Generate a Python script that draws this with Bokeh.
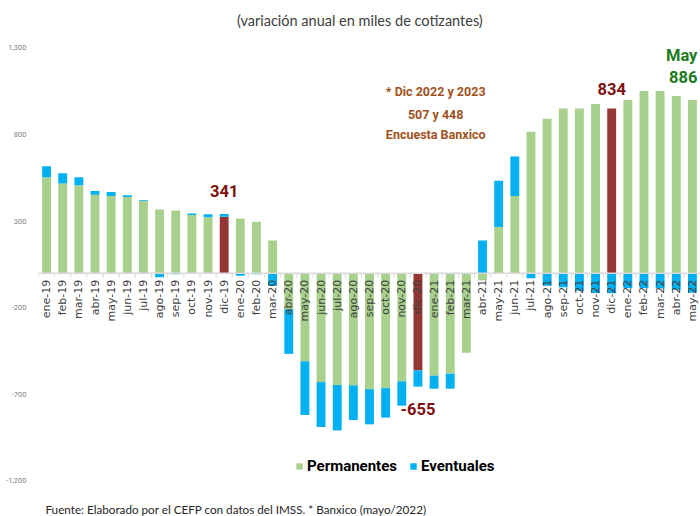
from math import pi
from bokeh.plotting import figure
from bokeh.models import (Range1d, FactorRange, Label, Legend, LegendItem, FixedTicker,
                          NumeralTickFormatter, Span, ColumnDataSource)
from bokeh.core.properties import value
from bokeh.embed import file_html
from bokeh.resources import INLINE

# ---------------- data ----------------
months = ["ene-19", "feb-19", "mar-19", "abr-19", "may-19", "jun-19", "jul-19", "ago-19", "sep-19",
          "oct-19", "nov-19", "dic-19",
          "ene-20", "feb-20", "mar-20", "abr-20", "may-20", "jun-20", "jul-20", "ago-20", "sep-20",
          "oct-20", "nov-20", "dic-20",
          "ene-21", "feb-21", "mar-21", "abr-21", "may-21", "jun-21", "jul-21", "ago-21", "sep-21",
          "oct-21", "nov-21", "dic-21",
          "ene-22", "feb-22", "mar-22", "abr-22", "may-22"]

permanentes = [553, 518, 507, 452, 445, 439, 418, 367, 361, 336, 322, 325,
               315, 296, 189, -208, -509, -629, -646, -648, -670, -664, -625, -561,
               -592, -580, -460, -42, 266, 445, 816, 892, 950, 950, 976, 950,
               999, 1051, 1051, 1022, 999]

eventuales = [64, 59, 46, 22, 23, 11, 4, -24, -7, 8, 18, 16,
              -15, -7, -73, -258, -310, -259, -262, -200, -203, -170, -140, -94,
              -75, -87, 0, 189, 268, 228, -30, -73, -82, -102, -115, -116,
              -86, -86, -88, -96, -113]

y_ticks = [-1200, -700, -200, 300, 800, 1300]

highlight = ["dic-19", "dic-20", "dic-21"]

title_text = "(variación anual en miles de cotizantes)"
note_lines = ["* Dic 2022 y 2023", "507 y 448", "Encuesta Banxico"]
footer_text = "Fuente: Elaborado por el CEFP con datos del IMSS. * Banxico (mayo/2022)"

# ---------------- colours / fonts ----------------
GREEN = "#A9D18E"
BLUE = "#00B0F0"
RED = "#943634"
DARKRED = "#7F1010"
DKGREEN = "#217A21"
BROWN = "#A0521C"
GRAY = "#404040"
BOLDF = "Roboto"

# stacking (positives and negatives stacked separately, as in Excel)
ev_bottom, ev_top = [], []
for pv, ev in zip(permanentes, eventuales):
    if (pv >= 0) == (ev >= 0):
        ev_bottom.append(pv)
        ev_top.append(pv + ev)
    else:
        ev_bottom.append(0)
        ev_top.append(ev)
perm_colors = [RED if m in highlight else GREEN for m in months]
totals = [pv + ev for pv, ev in zip(permanentes, eventuales)]

src = ColumnDataSource(dict(x=months, perm=permanentes, zero=[0] * len(months),
                            eb=ev_bottom, et=ev_top, pc=perm_colors))

p = figure(width=700, height=516,
           x_range=FactorRange(*months, range_padding=0),
           y_range=Range1d(-1405, 1574),
           output_backend="svg", toolbar_location=None, x_axis_location=None,
           min_border_left=38, min_border_right=0, min_border_top=0, min_border_bottom=0)
p.outline_line_color = None
p.grid.visible = False
p.background_fill_color = "white"

ax = p.yaxis[0]
ax.ticker = FixedTicker(ticks=y_ticks)
ax.formatter = NumeralTickFormatter(format="0,0")
ax.major_label_text_font_size = "7.5px"
ax.major_label_text_font = "Roboto"
ax.major_label_text_color = "#808080"
ax.axis_line_color = None
ax.major_tick_line_color = None
ax.minor_tick_line_color = None
ax.major_label_standoff = 6

r1 = p.vbar(x="x", bottom="zero", top="perm", width=0.55, fill_color="pc",
            line_color=None, source=src)
r2 = p.vbar(x="x", bottom="eb", top="et", width=0.55, fill_color=BLUE,
            line_color=None, source=src)

# baseline and category ticks
p.add_layout(Span(location=0, dimension="width", line_color="#D9D9D9", line_width=1.5))
bounds = list(range(len(months) + 1))
p.segment(x0=bounds, y0=[0] * len(bounds), x1=bounds, y1=[-26] * len(bounds),
          line_color="#D9D9D9", line_width=1)

# category labels along the zero line
p.text(x=months, y=[-38] * len(months), text=months, angle=pi / 2,
       text_align="right", text_baseline="middle",
       text_font=value("DejaVu Sans"), text_font_size="11px", text_color=GRAY)

# value annotations
idx = {m: i for i, m in enumerate(months)}
for m, yy in [("dic-19", 476), ("dic-21", 1063), ("dic-20", -785)]:
    p.text(x=[m], y=[yy], text=[str(totals[idx[m]])], text_align="center",
           text_baseline="middle", text_font=value(BOLDF), text_font_style="bold",
           text_font_size="16.5px", text_color=DARKRED)
p.text(x=["may-22"], y=[1259], text=["May"], text_align="right", x_offset=5,
       text_baseline="middle", text_font=value(BOLDF), text_font_style="bold",
       text_font_size="16.5px", text_color=DKGREEN)
p.text(x=["may-22"], y=[1132], text=[str(totals[idx["may-22"]])], text_align="right", x_offset=5,
       text_baseline="middle", text_font=value(BOLDF), text_font_style="bold",
       text_font_size="16.5px", text_color=DKGREEN)

for line, yy in zip(note_lines, [1051, 916, 800]):
    p.add_layout(Label(x=24.6, y=yy, text=line, text_align="center", text_baseline="middle",
                       text_font=BOLDF, text_font_style="bold", text_font_size="12.5px",
                       text_color=BROWN))

p.add_layout(Label(x=19.9, y=1458, text=title_text, text_align="center", text_baseline="middle",
                   text_font="Lato", text_font_size="14.5px", text_color=GRAY))
p.add_layout(Label(x=0.43, y=-1400, text=footer_text, text_align="left", text_baseline="bottom",
                   text_font="Lato", text_font_size="11.7px", text_color="#262626"))

legend = Legend(items=[LegendItem(label="Permanentes", renderers=[r1], index=0),
                       LegendItem(label="Eventuales", renderers=[r2], index=0)],
                orientation="horizontal", location=(257, 41),
                border_line_color=None, background_fill_alpha=0,
                label_text_font=BOLDF, label_text_font_style="bold",
                label_text_font_size="15px", label_text_color="black",
                glyph_width=8, glyph_height=8, label_standoff=4, spacing=12,
                padding=0, margin=0, label_height=16)
p.add_layout(legend)

open("out.html", "w").write(file_html(p, INLINE))
